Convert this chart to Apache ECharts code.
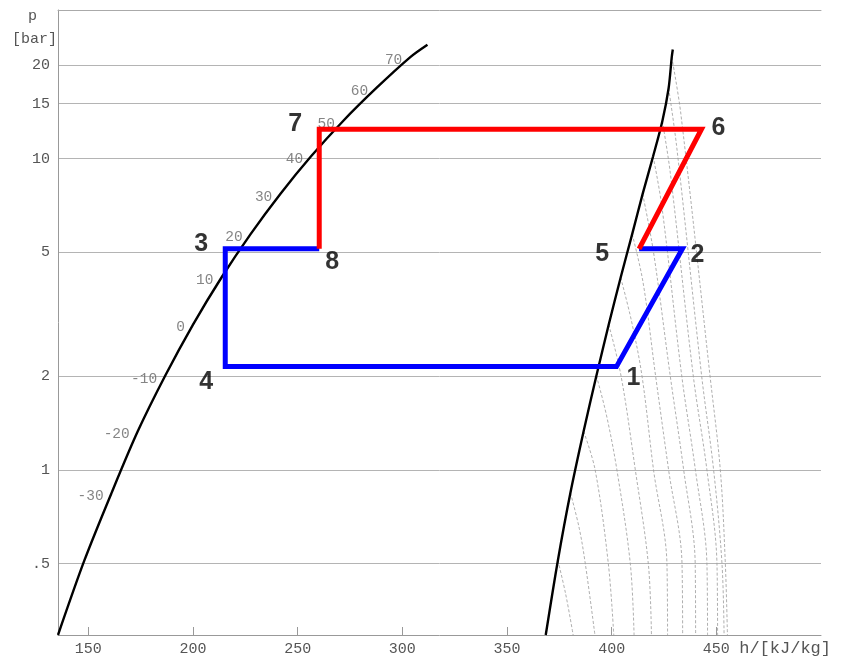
<!DOCTYPE html>
<html>
<head>
<meta charset="utf-8">
<script src="https://cdn.jsdelivr.net/npm/echarts@6/dist/echarts.min.js"></script>
<style>
  html, body { margin: 0; padding: 0; background: #fff; }
  #chart { width: 844px; height: 658px; }
</style>
</head>
<body>
<div id="chart"></div>
<script>
// Saturation states: temperature (°C), pressure (bar), enthalpy of liquid and vapour (kJ/kg)
const satTemp        = [-50, -40, -30, -20, -10, 0, 10, 20, 30, 40, 50, 60, 70];
const satPressure    = [0.295, 0.512, 0.844, 1.33, 2.006, 2.93, 4.15, 5.72, 7.70, 10.17, 13.18, 16.82, 21.17];
const liquidEnthalpy = [135.5, 148.1, 161.1, 173.6, 186.7, 200.0, 213.6, 227.5, 241.7, 256.4, 271.6, 287.5, 303.8];
const vapourEnthalpy = [368.5, 374.3, 380.3, 386.6, 392.7, 398.6, 404.3, 409.8, 414.8, 419.8, 424.2, 427.2, 428.7];
// upper ends of the two saturation curves [h, p]
const liquidEnd = [312.0, 23.2];
const vapourEnd = [429.2, 22.4];
// temperatures written along the liquid line
const labelledTemps = [-30, -20, -10, 0, 10, 20, 30, 40, 50, 60, 70];

// thin isotherms in the vapour region, each as [h, p] pairs
const isotherms = [
  [[374.3, 0.512], [378.0, 0.40], [381.6, 0.295]],
  [[380.3, 0.844], [384.5, 0.65], [387.4, 0.5], [392.0, 0.295]],
  [[386.6, 1.33], [392.1, 1.0], [398.4, 0.5], [401.0, 0.295]],
  [[392.7, 2.006], [397.5, 1.5], [402.5, 1.0], [408.9, 0.5], [410.7, 0.295]],
  [[398.6, 2.93], [404.5, 2.0], [411.3, 1.0], [417.5, 0.5], [419.0, 0.295]],
  [[404.3, 4.15], [409.5, 3.0], [414.5, 2.0], [420.0, 1.0], [426.4, 0.5], [426.7, 0.295]],
  [[409.8, 5.72], [415.0, 4.0], [421.0, 2.0], [427.2, 1.0], [433.6, 0.5], [433.9, 0.295]],
  [[414.8, 7.70], [420.0, 5.0], [428.0, 2.0], [434.4, 1.0], [439.9, 0.5], [440.1, 0.295]],
  [[419.8, 10.17], [424.0, 7.0], [433.5, 2.0], [440.0, 1.0], [445.5, 0.5], [445.8, 0.295]],
  [[424.2, 13.18], [428.0, 9.0], [439.0, 2.0], [445.5, 1.0], [450.3, 0.5], [450.6, 0.295]],
  [[427.2, 16.82], [431.0, 11.0], [443.0, 2.0], [448.7, 1.0], [452.7, 0.5], [453.7, 0.295]],
  [[428.7, 21.17], [433.0, 14.0], [447.0, 2.0], [451.9, 1.0], [454.3, 0.5], [455.3, 0.295]]
];

// Cycle state points
const stateNames    = ['1', '2', '3', '4', '5', '6', '7', '8'];
const stateEnthalpy = [402.3, 433.8, 215.4, 215.4, 413.1, 442.9, 260.3, 260.3];
const statePressure = [2.147, 5.13, 5.13, 2.147, 5.13, 12.43, 12.43, 5.13];
// low-stage loop (blue) and high-stage loop (red), as sequences of states
const lowStagePath  = ['8', '3', '4', '1', '2', '5'];
const highStagePath = ['5', '6', '7', '8'];

// Axis tick values
const pressureTicks = [0.5, 1, 2, 5, 10, 15, 20];
const enthalpyTicks = [150, 200, 250, 300, 350, 400, 450];

const monoFont = "'Liberation Mono', 'DejaVu Sans Mono', monospace";
const tickGray = '#555';

const stateIndex = name => stateNames.indexOf(name);
const statePoint = name => [stateEnthalpy[stateIndex(name)], statePressure[stateIndex(name)]];

// label placement for each state number
const stateLabelOffset = {
  '1': [17, 12], '2': [15, 6], '3': [-24, -5], '4': [-19, 16],
  '5': [-37, 5], '6': [17, -1], '7': [-24, -5], '8': [13, 13]
};

const liquidLine = satTemp.map((t, i) => [liquidEnthalpy[i], satPressure[i]]).concat([liquidEnd]);
const vapourLine = satTemp.map((t, i) => [vapourEnthalpy[i], satPressure[i]]).concat([vapourEnd]);

const series = [];

isotherms.forEach(line => {
  series.push({
    type: 'line', data: line, smooth: 0.35, symbol: 'none', silent: true,
    lineStyle: { color: '#9a9a9a', width: 0.8, type: [3, 2] },
    z: 1
  });
});

series.push({
  type: 'line', data: liquidLine, smooth: 0.3, symbol: 'none', silent: true,
  lineStyle: { color: '#000', width: 2.4 }, z: 3
});
series.push({
  type: 'line', data: vapourLine, smooth: 0.3, symbol: 'none', silent: true,
  lineStyle: { color: '#000', width: 2.4 }, z: 3
});

// temperature marks along the saturated-liquid line
series.push({
  type: 'scatter', symbolSize: 0, silent: true, z: 4,
  data: labelledTemps.map(t => {
    const i = satTemp.indexOf(t);
    return { value: [liquidEnthalpy[i], satPressure[i]], name: String(t) };
  }),
  label: {
    show: true, position: 'left', distance: 8, offset: [0, 3],
    formatter: p => p.name,
    fontFamily: monoFont, fontSize: 14.5, color: '#666'
  }
});

series.push({
  type: 'line', data: lowStagePath.map(statePoint), symbol: 'none', silent: true,
  lineStyle: { color: '#0000ff', width: 5, join: 'miter', cap: 'butt' }, z: 5
});
series.push({
  type: 'line', data: highStagePath.map(statePoint), symbol: 'none', silent: true,
  lineStyle: { color: '#ff0000', width: 5, join: 'miter', cap: 'butt' }, z: 6
});

series.push({
  type: 'scatter', symbolSize: 0, silent: true, z: 7,
  data: stateNames.map((n, i) => ({
    value: [stateEnthalpy[i], statePressure[i]], name: n,
    label: { offset: stateLabelOffset[n] }
  })),
  label: {
    show: true, position: 'inside', formatter: p => p.name,
    fontFamily: "'Liberation Sans', Arial, sans-serif", fontWeight: 'bold',
    fontSize: 25, color: '#000'
  }
});

const option = {
  animation: false,
  backgroundColor: '#fff',
  grid: { left: 58, right: 23, top: 10, bottom: 23, containLabel: false },
  xAxis: [{
    type: 'value', min: 135.5, max: 500,
    axisLine: { show: true, lineStyle: { color: '#999', width: 1 } },
    axisTick: { show: true, inside: true, length: 8, customValues: enthalpyTicks,
                lineStyle: { color: '#999' } },
    axisLabel: { customValues: enthalpyTicks, margin: 7, fontFamily: monoFont,
                 fontSize: 15, color: tickGray },
    splitLine: { show: false }
  }, {
    type: 'value', min: 135.5, max: 500, position: 'top',
    axisLine: { show: true, lineStyle: { color: '#aaa', width: 1 } },
    axisTick: { show: false }, axisLabel: { show: false }, splitLine: { show: false }
  }],
  yAxis: {
    type: 'log', logBase: 10, min: 0.295, max: 30,
    axisLine: { show: true, lineStyle: { color: '#999', width: 1 } },
    axisTick: { show: false, customValues: pressureTicks },
    axisLabel: {
      customValues: pressureTicks, margin: 8, fontFamily: monoFont, fontSize: 15, color: tickGray,
      formatter: v => (Math.abs(v - 0.5) < 1e-6 ? '.5' : String(Math.round(v)))
    },
    splitLine: { show: true, lineStyle: { color: '#b4b4b4', width: 1 } },
    minorSplitLine: { show: false }
  },
  graphic: [
    { type: 'text', left: 28, top: 9, style: { text: 'p', font: "15px 'Liberation Mono'", fill: tickGray } },
    { type: 'text', left: 12, top: 32, style: { text: '[bar]', font: "15px 'Liberation Mono'", fill: tickGray } },
    { type: 'text', right: 13, top: 640, style: { text: 'h/[kJ/kg]', font: "17px 'Liberation Mono'", fill: tickGray } }
  ],
  series: series
};

const chart = echarts.init(document.getElementById('chart'), null, { renderer: 'canvas' });
chart.setOption(option);
</script>
</body>
</html>
